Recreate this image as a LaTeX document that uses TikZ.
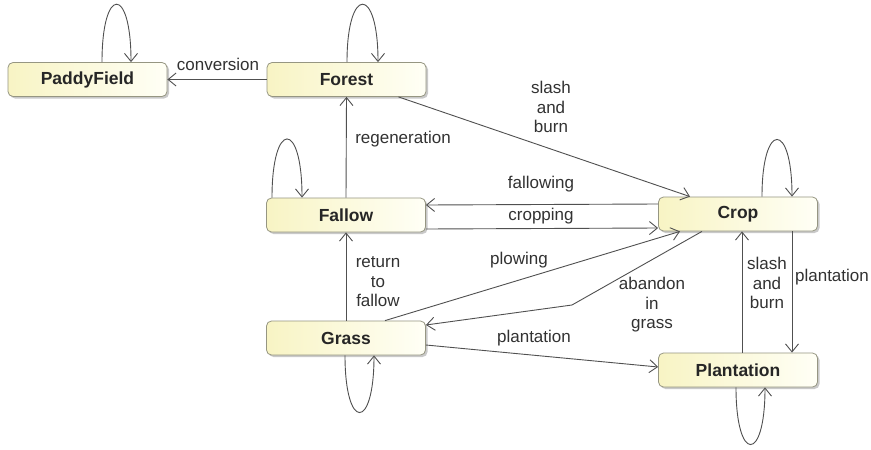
\documentclass[tikz,border=0pt]{standalone}
\usepackage{fontspec}
\setmainfont{Liberation Sans}
\usetikzlibrary{arrows.meta,shadows}
\definecolor{edgec}{RGB}{80,80,80}
\definecolor{txtc}{RGB}{50,50,50}
\definecolor{boxl}{RGB}{248,244,196}
\definecolor{boxr}{RGB}{255,255,246}
\definecolor{boxd}{RGB}{150,150,130}
\tikzset{
  state/.style={rectangle, rounded corners=5pt, draw=boxd, line width=0.8pt,
    left color=boxl, right color=boxr, minimum width=159pt, minimum height=34pt,
    inner sep=0pt, font=\fontsize{17.5}{20}\selectfont\bfseries, text=black!85,
    drop shadow={shadow xshift=2pt, shadow yshift=-2pt, opacity=0.35, fill=black!60}},
  conn/.style={draw=edgec, line width=0.9pt, -{Straight Barb[length=8pt,width=13pt]}},
  lbl/.style={font=\fontsize{17}{19.5}\selectfont, text=txtc, align=center, inner sep=0pt}
}
\begin{document}
\begin{tikzpicture}[x=1pt,y=-1pt]
\useasboundingbox (0,0) rectangle (871,450);
\fill[white] (0,0) rectangle (871,450);
% states
\node[state] (paddy) at (87.5,79.5) {PaddyField};
\node[state] (forest) at (346.5,79.5) {Forest};
\node[state] (fallow) at (346,215) {Fallow};
\node[state] (crop) at (738,214) {Crop};
\node[state] (grass) at (346,338) {Grass};
\node[state] (plant) at (738,370) {Plantation};
% self loops
\draw[conn] ([xshift=14.5pt]paddy.north) .. controls +(0,-77) and +(0,-77) .. ([xshift=43.5pt]paddy.north);
\draw[conn] ([xshift=0.5pt]forest.north) .. controls +(0,-77) and +(0,-77) .. ([xshift=31.5pt]forest.north);
\draw[conn] ([xshift=-74pt]fallow.north) .. controls +(0,-78) and +(0,-78) .. ([xshift=-44pt]fallow.north);
\draw[conn] ([xshift=24pt]crop.north) .. controls +(0,-76) and +(0,-76) .. ([xshift=54pt]crop.north);
\draw[conn] ([xshift=-1pt]grass.south) .. controls +(0,76) and +(0,76) .. ([xshift=28pt]grass.south);
\draw[conn] ([xshift=-2pt]plant.south) .. controls +(0,76) and +(0,76) .. ([xshift=27pt]plant.south);
% transitions
\draw[conn] (forest.west) -- (paddy.east);
\draw[conn] (fallow.north) -- (forest.south);
\draw[conn] ([xshift=52pt]forest.south) -- ([xshift=-48pt]crop.north);
\draw[conn] ([yshift=10pt]crop.west) -- ([yshift=10pt]fallow.east);
\draw[conn] ([yshift=-14pt]fallow.east) -- ([yshift=-14pt]crop.west);
\draw[conn] (grass.north) -- (fallow.south);
\draw[conn] ([xshift=39pt]grass.north) -- ([xshift=-58pt]crop.south);
\coordinate (bend) at (572,305);
\draw[conn] ([xshift=-36pt]crop.south) -- (bend) -- ([yshift=13pt]grass.east);
\draw[conn] ([yshift=-7pt]grass.east) -- ([yshift=3pt]plant.west);
\draw[conn] ([xshift=4pt]plant.north) -- ([xshift=4pt]crop.south);
\draw[conn] ([xshift=54pt]crop.south) -- ([xshift=54pt]plant.north);
% labels
\node[lbl] (l1) at (218,64) {conversion};
\node[lbl] (l2) at (403,139) {regeneration};
\node[lbl] (l3) at (551,107) {slash\\and\\burn};
\node[lbl] (l4) at (541,184) {fallowing};
\node[lbl] (l5) at (541,216) {cropping};
\node[lbl] (l6) at (378,282) {return\\to\\fallow};
\node[lbl] (l7) at (519,260) {plowing};
\node[lbl] (l8) at (652,305) {abandon\\in\\grass};
\node[lbl] (l9) at (534,338) {plantation};
\node[lbl] (l10) at (767,283) {slash\\and\\burn};
\node[lbl] (l11) at (832,277) {plantation};
\end{tikzpicture}
\end{document}
